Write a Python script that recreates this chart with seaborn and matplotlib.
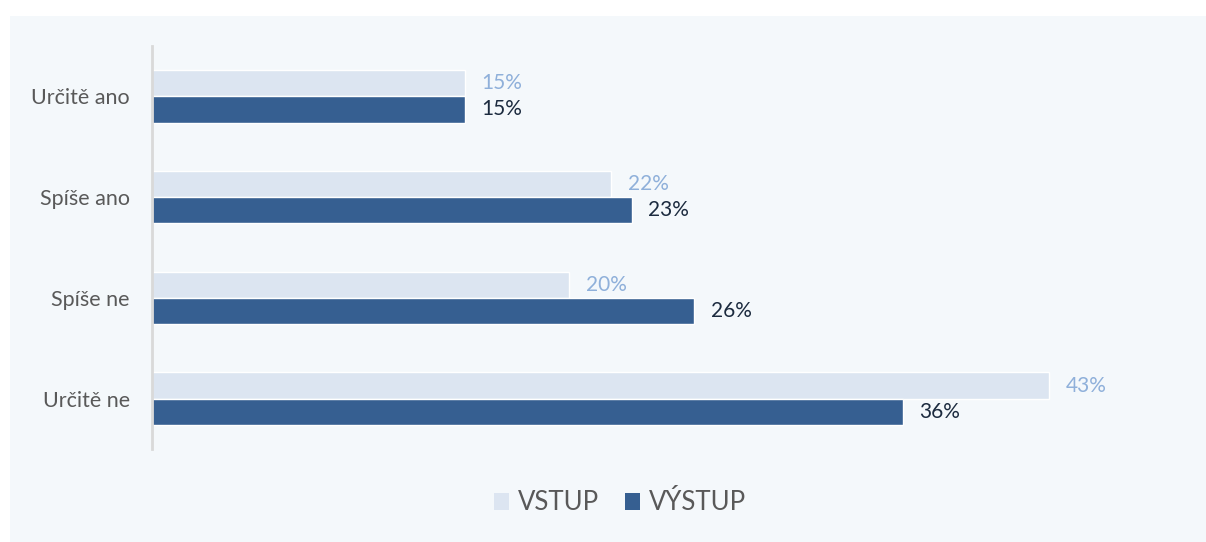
import matplotlib
matplotlib.use("Agg")
import matplotlib.pyplot as plt
from matplotlib.patches import Rectangle
import pandas as pd
import seaborn as sns

categories = ["Určitě ano", "Spíše ano", "Spíše ne", "Určitě ne"]
series = ["VSTUP", "VÝSTUP"]
vstup = [15, 22, 20, 43]
vystup = [15, 23, 26, 36]

df = pd.DataFrame({
    "kategorie": categories * 2,
    "serie": [series[0]] * 4 + [series[1]] * 4,
    "hodnota": vstup + vystup,
})

sns.set_theme(style="white")
plt.rcParams["font.family"] = ["Lato", "DejaVu Sans"]

W, H = 1206, 542
fig = plt.figure(figsize=(W / 100, H / 100), dpi=100, facecolor="white")
panel_color = "#F4F8FB"
fig.patches.append(Rectangle((10 / W, 0), 1 - 10 / W, 1 - 16 / H,
                             transform=fig.transFigure, facecolor=panel_color,
                             edgecolor="none", zorder=-10))

ax = fig.add_axes([152 / W, (H - 449) / H, (1101 - 152) / W, (449 - 46) / H])
ax.set_facecolor(panel_color)

colors = {"VSTUP": "#DCE5F1", "VÝSTUP": "#365F91"}
sns.barplot(data=df, y="kategorie", x="hodnota", hue="serie", order=categories,
            hue_order=series, palette=colors, orient="h", width=0.52,
            dodge=True, ax=ax, legend=False, saturation=1)

ax.set_xlim(0, 45.5)
ax.set_ylim(3.5, -0.5)
label_colors = ["#8FB0DA", "#1C2B3F"]
for cont, lc in zip(ax.containers, label_colors):
    ax.bar_label(cont, labels=[f"{v:.0f}%" for v in cont.datavalues],
                 padding=12, color=lc, fontsize=15)

ax.set_xlabel("")
ax.set_ylabel("")
ax.set_xticks([])
ax.tick_params(axis="y", length=0, pad=16, labelsize=15.5, labelcolor="#595959")
for s in ["top", "right", "bottom"]:
    ax.spines[s].set_visible(False)
ax.spines["left"].set_color("#D9D9D9")
ax.spines["left"].set_linewidth(2)

handles = [Rectangle((0, 0), 1, 1, facecolor=colors[s], edgecolor="none") for s in series]
fig.legend(handles, series, loc="center", bbox_to_anchor=(620 / W, 1 - 503 / H),
           ncol=2, frameon=False, fontsize=18.5, labelcolor="#595959",
           handlelength=0.6, handleheight=0.6, handletextpad=0.35, columnspacing=1.0)

fig.savefig("out.png", dpi=100, facecolor="white")
